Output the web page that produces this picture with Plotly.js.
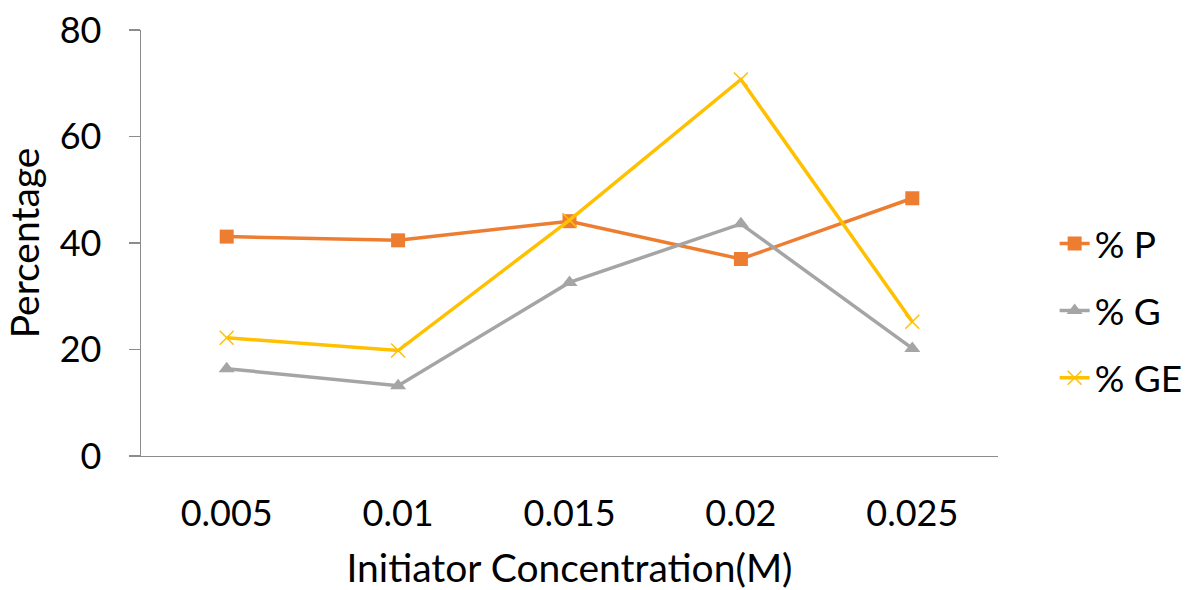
<!DOCTYPE html>
<html>
<head>
<meta charset="utf-8">
<script src="https://cdn.plot.ly/plotly-3.0.1.min.js"></script>
<style>html,body{margin:0;padding:0;background:#fff;}#chart{width:1189px;height:590px;}</style>
</head>
<body>
<div id="chart"></div>
<script>
const categories = ["0.005", "0.01", "0.015", "0.02", "0.025"];
const pValues = [41.2, 40.5, 44.1, 37.0, 48.4];
const gValues = [16.4, 13.2, 32.6, 43.6, 20.2];
const geValues = [22.2, 19.8, 44.3, 70.7, 25.2];
const seriesNames = ["% P", "% G", "% GE"];
const yTicks = [0, 20, 40, 60, 80];

const fontFam = "Lato, 'Open Sans', sans-serif";
function tr(name, vals, color, symbol, msize, mline, group) {
  return {
    x: categories, y: vals, name: name, type: 'scatter', mode: 'lines+markers',
    legendgroup: group,
    line: {color: color, width: 3.5},
    marker: {color: color, symbol: symbol, size: msize, line: {color: color, width: mline}}
  };
}
const data = [
  tr(seriesNames[0], pValues, '#ED7D31', 'square', 14, 0, 'a'),
  tr(seriesNames[1], gValues, '#A5A5A5', 'triangle-up', 14, 0, 'b'),
  tr(seriesNames[2], geValues, '#FFC000', 'x-thin', 14, 1.5, 'c')
];
const layout = {
  width: 1189, height: 590,
  margin: {l: 141, r: 191, t: 30, b: 134},
  paper_bgcolor: '#fff', plot_bgcolor: '#fff',
  font: {family: fontFam, color: '#000', size: 37},
  showlegend: true,
  legend: {xref: 'container', yref: 'container', x: 0.887, y: 0.473, yanchor: 'middle', xanchor: 'left',
           traceorder: 'grouped', tracegroupgap: 16, font: {size: 37, family: fontFam}},
  xaxis: {type: 'category', range: [-0.5, 4.5], showline: true, linecolor: '#8c8c8c', linewidth: 1.3,
          showgrid: false, zeroline: false, ticks: '', tickfont: {size: 36}, ticklabelstandoff: 25,
          title: {text: 'Initiator Concentration(M)', font: {size: 39}, standoff: 25}},
  yaxis: {range: [0, 80], tickvals: yTicks, showline: true, linecolor: '#8c8c8c', linewidth: 1.3,
          showgrid: false, zeroline: false, ticks: 'outside', ticklen: 11, tickcolor: '#8c8c8c', tickwidth: 1.3,
          tickfont: {size: 36}, ticklabelstandoff: 20,
          title: {text: 'Percentage', font: {size: 39}, standoff: 8}}
};
Plotly.newPlot('chart', data, layout, {displayModeBar: false, staticPlot: true});
</script>
</body>
</html>
